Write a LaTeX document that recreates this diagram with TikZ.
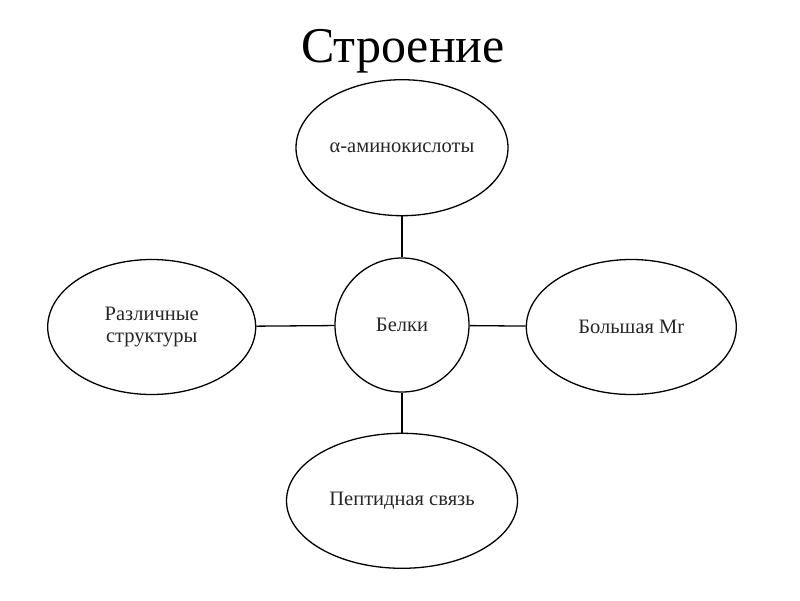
\documentclass[tikz,border=0pt]{standalone}
\usepackage{fontspec}
\setmainfont{Liberation Serif}[Script=Cyrillic]
\usetikzlibrary{positioning, shapes.geometric}
\tikzset{
  partoval/.style = {ellipse, draw, line width=1.3pt, inner sep=0pt,
                     minimum width=210pt, minimum height=135pt, align=center,
                     font=\fontsize{20.5}{22}\selectfont, text=black!85},
  corecircle/.style = {circle, draw, line width=1.3pt, inner sep=0pt,
                       minimum size=134pt, font=\fontsize{20.5}{22}\selectfont,
                       text=black!85},
  partlink/.style = {line width=1.3pt}
}
\begin{document}
\begin{tikzpicture}[x=1pt, y=-1pt]
\useasboundingbox (0,0) rectangle (800,600);
\node[anchor=base, font=\fontsize{50}{54}\selectfont] (title) at (403,62) {Строение};

\node[corecircle] (belki) at (402,325) {Белки};
\node[partoval, above=41pt of belki, minimum width=212pt, minimum height=136pt] (amino) {α-аминокислоты};
\node[partoval, below=40pt of belki, minimum width=231pt] (peptide) {Пептидная связь};
\node[partoval, left=78pt of belki, yshift=-2pt, minimum width=208pt] (struct) {Различные\\структуры};
\node[partoval, right=56pt of belki, yshift=-2pt] (mass) {Большая Mr};

\draw[partlink] (amino) -- (belki);
\draw[partlink] (belki) -- (peptide);
\draw[partlink] (struct) -- (belki);
\draw[partlink] (belki) -- (mass);
\end{tikzpicture}
\end{document}
